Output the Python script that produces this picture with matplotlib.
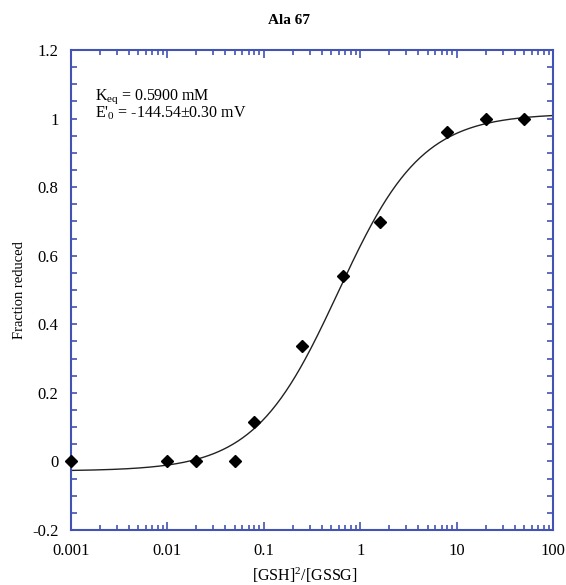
import numpy as np
import matplotlib
matplotlib.use("Agg")
import matplotlib.pyplot as plt
from matplotlib.ticker import LogLocator, MultipleLocator, FixedLocator, FixedFormatter

plt.rcParams['font.family'] = ['Liberation Serif', 'DejaVu Serif']
plt.rcParams['mathtext.fontset'] = 'custom'
plt.rcParams['mathtext.rm'] = 'Liberation Serif'
plt.rcParams['mathtext.it'] = 'Liberation Serif'
plt.rcParams['mathtext.default'] = 'regular'

# Data
ratio = [0.001, 0.01, 0.02, 0.05, 0.08, 0.25, 0.66, 1.6, 8, 20, 50]
frac_reduced = [0.0, 0.0, 0.0, 0.0, 0.115, 0.337, 0.54, 0.698, 0.961, 1.0, 1.0]

# Fit parameters
keq = 0.59
fit_bottom = -0.028
fit_top = 1.015

xticks = [0.001, 0.01, 0.1, 1, 10, 100]
xticklabels = ['0.001', '0.01', '0.1', '1', '10', '100']
yticks = [-0.2, 0, 0.2, 0.4, 0.6, 0.8, 1, 1.2]
yticklabels = ['-0.2', '0', '0.2', '0.4', '0.6', '0.8', '1', '1.2']

annotation = "K$_{eq}$ = 0.5900 mM\nE$'_{0}$ = -144.54±0.30 mV"

blue = '#4353b3'
fs = 11.5
W, H = 566, 585

fig = plt.figure(figsize=(W/100, H/100), dpi=100)
ax = fig.add_axes([71/W, 1-530/H, (553-71)/W, (530-50)/H])

xs = np.logspace(-3, 2, 400)
ys = fit_bottom + (fit_top - fit_bottom) * xs / (keq + xs)
ax.plot(xs, ys, color='#222222', lw=1.0, zorder=2)
ax.plot(ratio, frac_reduced, linestyle='none', marker='D', color='black', markersize=6, zorder=3, clip_on=False)

ax.set_xscale('log')
ax.set_xlim(0.001, 100)
ax.set_ylim(-0.2, 1.2)

ax.xaxis.set_major_locator(FixedLocator(xticks))
ax.xaxis.set_major_formatter(FixedFormatter(xticklabels))
ax.xaxis.set_minor_locator(LogLocator(base=10, subs=np.arange(2, 10)))
ax.xaxis.set_minor_formatter(plt.NullFormatter())
ax.yaxis.set_major_locator(FixedLocator(yticks))
ax.yaxis.set_major_formatter(FixedFormatter(yticklabels))
ax.yaxis.set_minor_locator(MultipleLocator(0.05))

for s in ax.spines.values():
    s.set_color(blue)
    s.set_linewidth(1.5)

ax.tick_params(axis='both', which='both', direction='in', top=True, right=True, color=blue, width=1.2,
               labelsize=12, labelcolor='black')
ax.tick_params(axis='x', which='major', length=6, pad=9.5)
ax.tick_params(axis='x', which='minor', length=3.5)
ax.tick_params(axis='y', which='major', length=4, pad=9)
ax.tick_params(axis='y', which='minor', length=4)

ax.set_xlabel('[GSH]$^2$/[GSSG]', fontsize=11.5)
ax.xaxis.set_label_coords((305-71)/482, -0.074)
ax.set_ylabel('Fraction reduced', fontsize=10.5)
ax.yaxis.set_label_coords(-(71-26)/482, 0.5)

fig.text(95/W, 1-87/H, annotation, fontsize=fs, va='top', ha='left', linespacing=0.9)

fig.text(289/W, 1-20/H, 'Ala 67', ha='center', va='center', fontsize=11, fontweight='bold')

fig.savefig('out.png', dpi=100)
